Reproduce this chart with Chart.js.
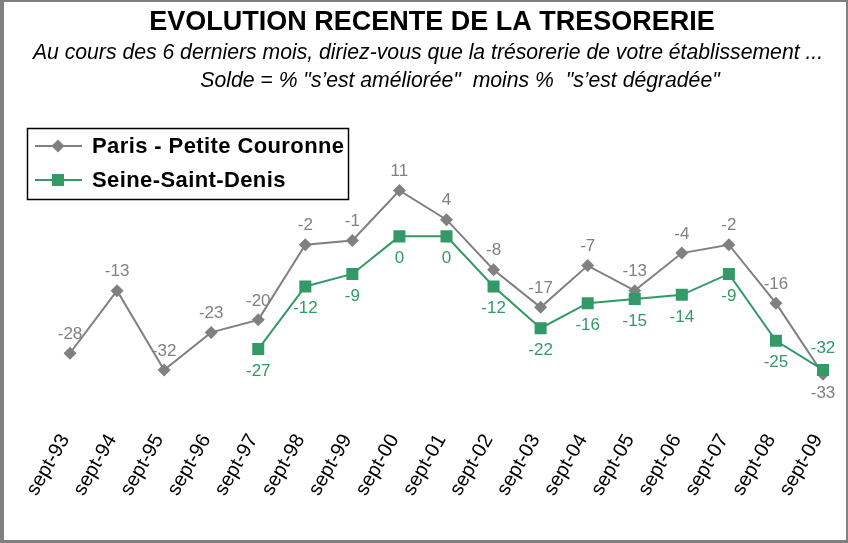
<!DOCTYPE html>
<html>
<head>
<meta charset="utf-8">
<script src="https://cdn.jsdelivr.net/npm/chart.js@4.4.1/dist/chart.umd.min.js"></script>
<style>
  html, body { margin: 0; padding: 0; background: #808080; }
  #cadre { position: absolute; left: 4px; top: 2px; width: 842px; height: 538px; background: #fff; }
</style>
</head>
<body>
<div id="cadre"><canvas id="graficoTresorerie" width="842" height="538"></canvas></div>
<script>
// donnees
const mois = ['sept-93', 'sept-94', 'sept-95', 'sept-96', 'sept-97', 'sept-98', 'sept-99', 'sept-00', 'sept-01',
              'sept-02', 'sept-03', 'sept-04', 'sept-05', 'sept-06', 'sept-07', 'sept-08', 'sept-09'];
const parisPC = [-28, -13, -32, -23, -20, -2, -1, 11, 4, -8, -17, -7, -13, -4, -2, -16, -33];
const seineSD = [null, null, null, null, -27, -12, -9, 0, 0, -12, -22, -16, -15, -14, -9, -25, -32];

const titre = 'EVOLUTION RECENTE DE LA TRESORERIE';
const sousTitre = [
  'Au cours des 6 derniers mois, diriez-vous que la trésorerie de votre établissement ...',
  'Solde = % "s\u2019est améliorée"  moins %  "s\u2019est dégradée"'
];

const GRIS = '#808080';
const VERT = '#339966';
const POLICE = '"Liberation Sans", Arial, sans-serif';

Chart.defaults.font.family = POLICE;

//TITRES (centres sur le cadre, pas sur la zone de traces)
const titres = {
  id: 'titres',
  afterDraw(chart) {
    const ctx = chart.ctx;
    ctx.save();
    ctx.fillStyle = '#000';
    ctx.textAlign = 'center';
    ctx.textBaseline = 'middle';
    ctx.font = 'bold 27px ' + POLICE;
    ctx.fillText(titre, 428, 21);
    ctx.font = 'italic 21.2px ' + POLICE;
    ctx.fillText(sousTitre[0], 424, 51);
    ctx.fillText(sousTitre[1], 456, 79);
    ctx.restore();
  }
};

//ETIQUETTES DES POINTS
const etiquettes = {
  id: 'etiquettes',
  afterDatasetsDraw(chart) {
    const ctx = chart.ctx;
    ctx.save();
    ctx.font = '17px ' + POLICE;
    ctx.textAlign = 'center';
    ctx.textBaseline = 'middle';
    chart.data.datasets.forEach((ds, i) => {
      const meta = chart.getDatasetMeta(i);
      const ecart = (i === 0) ? 19 : 22;
      meta.data.forEach((pt, j) => {
        const v = ds.data[j];
        if (v === null) return;
        let dessus = (i === 0);
        if (j === ds.data.length - 1) dessus = !dessus; // dernier point : on inverse
        ctx.fillStyle = ds.borderColor;
        ctx.fillText(v, pt.x, dessus ? pt.y - ecart : pt.y + ecart);
      });
    });
    ctx.restore();
  }
};

//LEGENDE (posee sur le graphique)
const legende = {
  id: 'legende',
  afterDraw(chart) {
    const ctx = chart.ctx;
    ctx.save();
    ctx.strokeStyle = '#000';
    ctx.lineWidth = 1.5;
    ctx.strokeRect(23.5, 126.5, 321, 71);
    chart.data.datasets.forEach((ds, i) => {
      const y = 144 + i * 34;
      ctx.strokeStyle = ds.borderColor;
      ctx.lineWidth = 2;
      ctx.beginPath();
      ctx.moveTo(31, y);
      ctx.lineTo(78, y);
      ctx.stroke();
      ctx.fillStyle = ds.backgroundColor;
      ctx.beginPath();
      if (ds.pointStyle === 'rectRot') {
        const r = ds.pointRadius;
        ctx.moveTo(54, y - r); ctx.lineTo(54 + r, y); ctx.lineTo(54, y + r); ctx.lineTo(54 - r, y);
        ctx.closePath();
      } else {
        const c = ds.pointRadius * Math.SQRT1_2;
        ctx.rect(54 - c, y - c, 2 * c, 2 * c);
      }
      ctx.fill();
      ctx.fillStyle = '#000';
      ctx.font = 'bold 22px ' + POLICE;
      ctx.letterSpacing = '0.4px';
      ctx.textBaseline = 'middle';
      ctx.fillText(ds.label, 88, y + 1);
      ctx.letterSpacing = '0px';
    });
    ctx.restore();
  }
};

const ctx = document.getElementById('graficoTresorerie').getContext('2d');

new Chart(ctx, {
  type: 'line',
  data: {
    labels: mois,
    datasets: [
      {
        label: 'Paris - Petite Couronne',
        data: parisPC,
        borderColor: GRIS,
        backgroundColor: GRIS,
        borderWidth: 2,
        pointStyle: 'rectRot',
        pointRadius: 6.5,
        pointBorderWidth: 0,
        tension: 0,
        order: 1
      },
      {
        label: 'Seine-Saint-Denis',
        data: seineSD,
        borderColor: VERT,
        backgroundColor: VERT,
        borderWidth: 2,
        pointStyle: 'rect',
        pointRadius: 8.5,
        pointBorderWidth: 0,
        tension: 0,
        order: 0
      }
    ]
  },
  options: {
    responsive: false,
    animation: false,
    events: [],
    layout: {
      padding: { left: 66, right: 23, top: 130, bottom: 42 }
    },
    plugins: {
      legend: { display: false },
      tooltip: { enabled: false },
      title: { display: false },
      subtitle: { display: false }
    },
    scales: {
      x: {
        grid: { display: false },
        border: { display: false },
        ticks: {
          color: '#000',
          font: { size: 20 },
          minRotation: 60,
          maxRotation: 60,
          autoSkip: false,
          padding: -2,
          labelOffset: -5
        }
      },
      y: {
        display: false,
        min: -45,
        max: 25
      }
    }
  },
  plugins: [etiquettes, legende, titres]
});
</script>
</body>
</html>
